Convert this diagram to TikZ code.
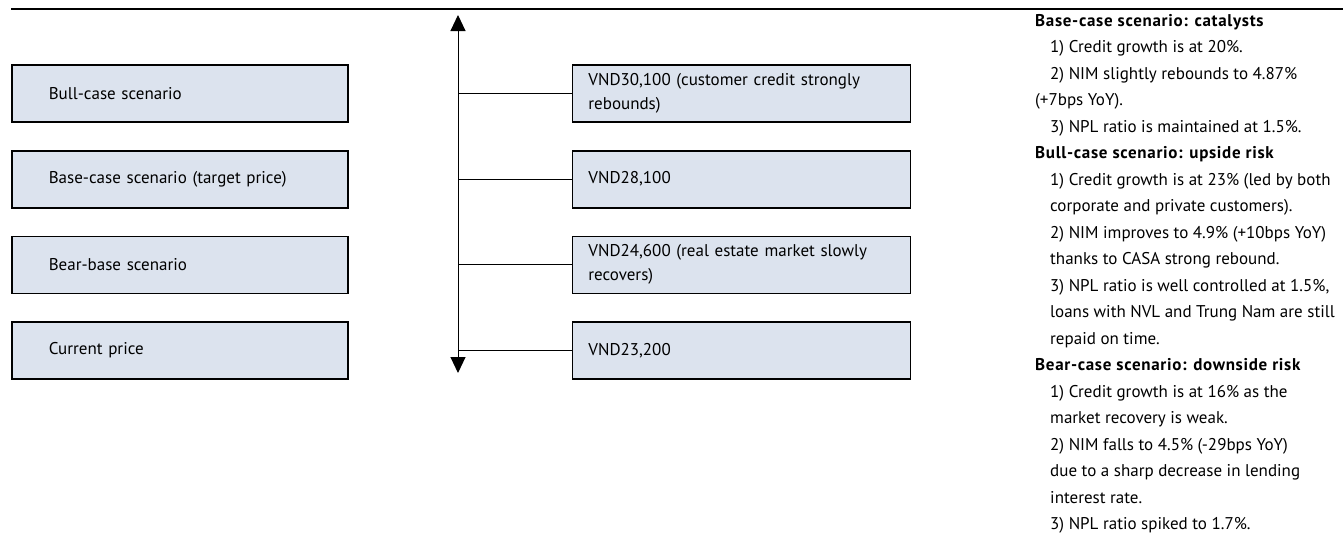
\documentclass[tikz,border=0pt]{standalone}
\usepackage{fontspec}
\setmainfont{PT Sans}
\usetikzlibrary{arrows.meta,positioning}
\definecolor{boxfill}{HTML}{DCE3EE}
\newcommand{\casehead}[1]{{\bfseries\addfontfeature{LetterSpace=4}#1}}

\begin{document}
\begin{tikzpicture}[
  x=1pt, y=-1pt,
  font=\fontsize{17}{24}\selectfont,
  line/.style={draw=black, line width=1pt},
  rule/.style={draw=black, line width=2pt},
  axis/.style={{Triangle[width=15pt,length=16pt]}-{Triangle[width=15pt,length=16pt]}, draw=black, line width=1pt},
  scenbox/.style={draw=black, line width=1.6pt, fill=boxfill, minimum height=57pt, text width=262pt, inner xsep=37pt, inner ysep=0pt, align=left},
  pricebox/.style={draw=black, line width=1.6pt, fill=boxfill, minimum height=57pt, text width=306pt, inner xsep=16pt, inner ysep=0pt, align=left},
  note/.style={anchor=north west, inner sep=0pt, align=left, font=\fontsize{17}{26.5}\selectfont}
]
\useasboundingbox (0,0) rectangle (1343,536);

\coordinate (ruleleft) at (11,8.7);
\coordinate (ruleright) at (1343,8.7);
\draw[rule] (ruleleft) -- (ruleright);

% scenarios
\node[scenbox, anchor=north west] (bull) at (11,64.3) {Bull-case scenario};
\node[scenbox, below=27pt of bull] (base) {Base-case scenario (target price)};
\node[scenbox, below=27pt of base] (bear) {Bear-base scenario};
\node[scenbox, below=27pt of bear] (current) {Current price};

% prices
\node[pricebox, right=223pt of bull] (bullprice) {VND30,100 (customer credit strongly\\rebounds)};
\node[pricebox, right=223pt of base] (baseprice) {VND28,100};
\node[pricebox, right=223pt of bear] (bearprice) {VND24,600 (real estate market slowly\\recovers)};
\node[pricebox, right=223pt of current] (currentprice) {VND23,200};

\coordinate (axtop) at (458,15);
\coordinate (axbot) at (458,373);
\draw[axis] (axbot) -- (axtop);
\foreach \p in {bullprice,baseprice,bearprice,currentprice}
  \draw[line] (axtop |- \p.west) -- (\p.west);

% notes on the right
\node[note] (notes) at (1035,14) {%
\casehead{Base-case scenario: catalysts}\\
\hspace*{15pt}1) Credit growth is at 20\%.\\
\hspace*{15pt}2) NIM slightly rebounds to 4.87\%\\
(+7bps YoY).\\
\hspace*{15pt}3) NPL ratio is maintained at 1.5\%.\\
\casehead{Bull-case scenario: upside risk}\\
\hspace*{15pt}1) Credit growth is at 23\% (led by both\\
\hspace*{15pt}corporate and private customers).\\
\hspace*{15pt}2) NIM improves to 4.9\% (+10bps YoY)\\
\hspace*{15pt}thanks to CASA strong rebound.\\
\hspace*{15pt}3) NPL ratio is well controlled at 1.5\%,\\
\hspace*{15pt}loans with NVL and Trung Nam are still\\
\hspace*{15pt}repaid on time.\\
\casehead{Bear-case scenario: downside risk}\\
\hspace*{15pt}1) Credit growth is at 16\% as the\\
\hspace*{15pt}market recovery is weak.\\
\hspace*{15pt}2) NIM falls to 4.5\% (-29bps YoY)\\
\hspace*{15pt}due to a sharp decrease in lending\\
\hspace*{15pt}interest rate.\\
\hspace*{15pt}3) NPL ratio spiked to 1.7\%.};

\end{tikzpicture}
\end{document}
